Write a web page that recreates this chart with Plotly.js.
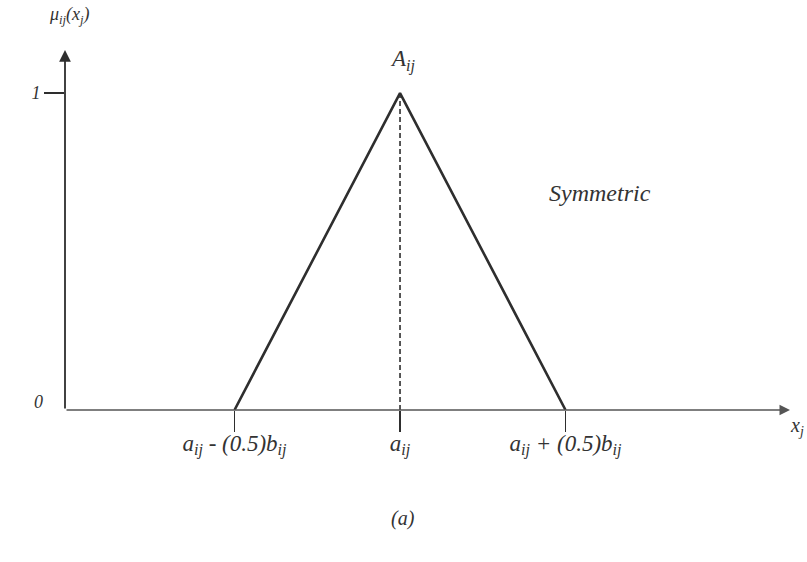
<!DOCTYPE html>
<html>
<head>
<meta charset="utf-8">
<script src="https://cdn.plot.ly/plotly-3.0.1.min.js"></script>
<style>
  html, body { margin: 0; padding: 0; background: #fff; }
  #chart { width: 807px; height: 562px; }
</style>
</head>
<body>
<div id="chart"></div>
<script>
// Symmetric triangular membership function A_ij, with a_ij = 0 and b_ij = 1
const triX = [-0.5, 0, 0.5];
const triY = [0, 1, 0];
const peakX = [0, 0];
const peakY = [0, 1];
const xTickVals = [-0.5, 0, 0.5];
const xTickText = [
  '<i>a<sub>ij</sub> - (0.5)b<sub>ij</sub></i>',
  '<i>a<sub>ij</sub></i>',
  '<i>a<sub>ij</sub> + (0.5)b<sub>ij</sub></i>'
];
const yTickVals = [1];
const yTickText = ['<i>1</i>'];

const xRange = [-1.012, 1.178];
const yRange = [0, 1.136];

const ink = '#2e2e2e';
const serif = 'Liberation Serif, DejaVu Serif, serif';

const traces = [
  {
    x: triX, y: triY, type: 'scatter', mode: 'lines',
    line: { color: ink, width: 2.6 }, hoverinfo: 'skip', cliponaxis: false
  },
  {
    x: peakX, y: peakY, type: 'scatter', mode: 'lines',
    line: { color: ink, width: 1.6, dash: '5px,3px' }, hoverinfo: 'skip'
  }
];

// centred text label placed in paper coordinates
function label(x, y, text, size) {
  return { x: x, y: y, xref: 'paper', yref: 'paper', text: text, showarrow: false,
           xanchor: 'center', yanchor: 'middle',
           font: { family: serif, size: size, color: '#333' } };
}

const layout = {
  width: 807, height: 562,
  margin: { l: 65, r: 17, t: 50, b: 152 },
  paper_bgcolor: '#ffffff', plot_bgcolor: '#ffffff',
  showlegend: false,
  font: { family: serif, color: '#333' },
  xaxis: {
    range: xRange, showgrid: false, zeroline: false, showline: false,
    tickmode: 'array', tickvals: xTickVals, ticktext: xTickText,
    ticks: 'outside', ticklen: 21, tickwidth: 1.6, tickcolor: ink,
    ticklabelstandoff: -9,
    tickfont: { family: serif, size: 23, color: '#333' }
  },
  yaxis: {
    range: yRange, showgrid: false, zeroline: false, showline: false,
    tickmode: 'array', tickvals: yTickVals, ticktext: yTickText,
    ticks: 'outside', ticklen: 20, tickwidth: 1.4, tickcolor: ink,
    tickfont: { family: serif, size: 18, color: '#333' }
  },
  annotations: [
    // horizontal axis with arrow
    { x: 1.178, y: 0, ax: -1.012, ay: 0, xref: 'x', yref: 'y', axref: 'x', ayref: 'y',
      text: '', showarrow: true, arrowhead: 2, arrowsize: 1.5, arrowwidth: 1.4, arrowcolor: '#555' },
    // vertical axis with arrow
    { x: -1.012, y: 1.136, ax: -1.012, ay: 0, xref: 'x', yref: 'y', axref: 'x', ayref: 'y',
      text: '', showarrow: true, arrowhead: 2, arrowsize: 1.3, arrowwidth: 1.8, arrowcolor: ink },
    label(-0.0372, 0.022, '<i>0</i>', 18),
    label(0.006, 1.097, '<i>μ<sub>ij</sub>(x<sub>j</sub>)</i>', 18),
    label(0.466, 0.972, '<i>A<sub>ij</sub></i>', 23),
    label(0.738, 0.603, '<i>Symmetric</i>', 24),
    label(1.0097, -0.045, '<i>x<sub>j</sub></i>', 20),
    label(0.466, -0.3, '<i>(a)</i>', 20)
  ]
};

Plotly.newPlot('chart', traces, layout, { displayModeBar: false, staticPlot: true });
</script>
</body>
</html>
